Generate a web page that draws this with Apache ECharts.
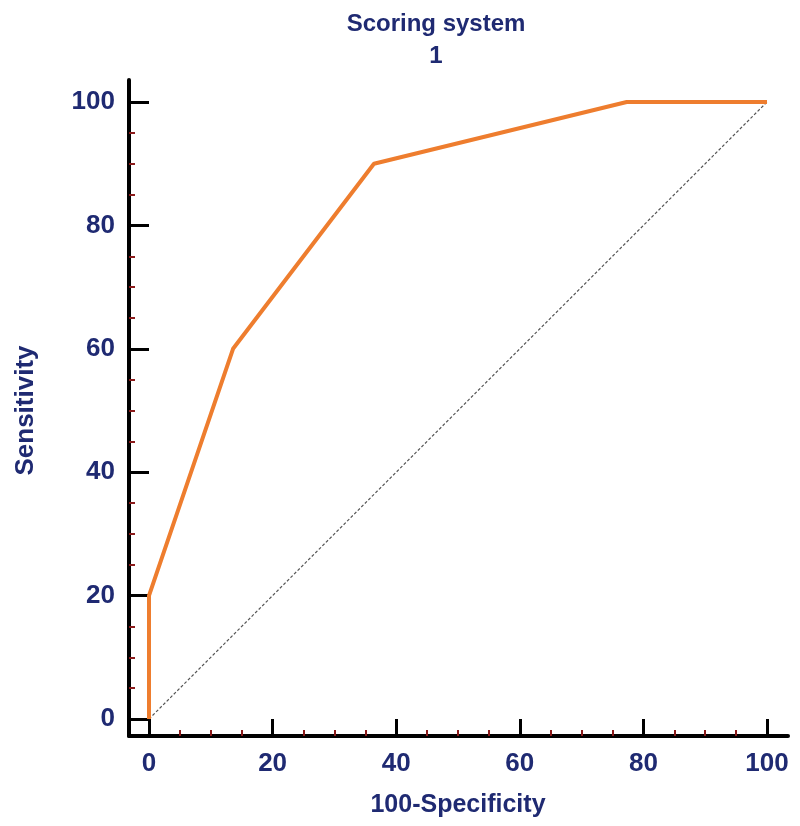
<!DOCTYPE html>
<html>
<head>
<meta charset="utf-8">
<script src="https://cdn.jsdelivr.net/npm/echarts@6/dist/echarts.min.js"></script>
<style>html,body{margin:0;padding:0;background:#fff}#c{width:800px;height:826px}</style>
</head>
<body>
<div id="c"></div>
<script>
const titleLines = ['Scoring system', '1'];
const xName = '100-Specificity';
const yName = 'Sensitivity';
const specificity100 = [0, 0, 13.6, 36.4, 77.3, 100];
const sensitivity = [0, 20, 60, 90, 100, 100];
const diagonalX = [0, 100];
const diagonalY = [0, 100];
const axisMin = 0, axisMax = 100, axisStep = 20;

const navy = '#1f2a72';
const font = '"Liberation Sans",Arial,sans-serif';

const chart = echarts.init(document.getElementById('c'));
const roc = specificity100.map((x, i) => [x, sensitivity[i]]);
const diag = diagonalX.map((x, i) => [x, diagonalY[i]]);

const valAxisCommon = {
  type: 'value', min: axisMin, max: axisMax, interval: axisStep,
  axisLine: { show: true, onZero: false, lineStyle: { color: '#000', width: 4 } },
  axisTick: { show: true, inside: true, length: 17, lineStyle: { color: '#000', width: 3 } },
  minorTick: { show: true, splitNumber: 4, length: 6, lineStyle: { color: '#8b1a1a', width: 2 } },
  splitLine: { show: false },
  axisLabel: { color: navy, fontFamily: font, fontWeight: 'bold', fontSize: 26 },
  nameTextStyle: { color: navy, fontFamily: font, fontWeight: 'bold', fontSize: 25 }
};

chart.setOption({
  animation: false,
  title: {
    text: titleLines.join('\n'),
    left: 431, top: 3, textAlign: 'center',
    textStyle: { color: navy, fontFamily: font, fontWeight: 'bold', fontSize: 24, lineHeight: 32 }
  },
  grid: [
    { left: 149, right: 33, top: 102, bottom: 107, containLabel: false, outerBoundsMode: 'none' },
    { left: 129, right: 12, top: 80, bottom: 90, containLabel: false, outerBoundsMode: 'none' }
  ],
  xAxis: [
    Object.assign({}, valAxisCommon, {
      gridIndex: 0, offset: 17, name: xName, nameLocation: 'middle', nameGap: 57,
      axisLabel: Object.assign({}, valAxisCommon.axisLabel, { margin: 15 })
    }),
    { type: 'value', gridIndex: 1, min: 0, max: 1, axisLine: { show: true, onZero: false, lineStyle: { color: '#000', width: 4 } },
      axisTick: { show: false }, axisLabel: { show: false }, splitLine: { show: false } }
  ],
  yAxis: [
    Object.assign({}, valAxisCommon, {
      gridIndex: 0, offset: 20, name: yName, nameLocation: 'middle', nameGap: 90,
      axisTick: Object.assign({}, valAxisCommon.axisTick, { length: 20 }),
      axisLabel: Object.assign({}, valAxisCommon.axisLabel, { margin: 14 }),
      nameTextStyle: Object.assign({}, valAxisCommon.nameTextStyle, { fontSize: 26 })
    }),
    { type: 'value', gridIndex: 1, min: 0, max: 1, axisLine: { show: true, onZero: false, lineStyle: { color: '#000', width: 4 } },
      axisTick: { show: false }, axisLabel: { show: false }, splitLine: { show: false } }
  ],
  series: [
    { type: 'line', xAxisIndex: 0, yAxisIndex: 0, data: diag, symbol: 'none',
      lineStyle: { color: '#555', width: 1.2, type: [3, 2] }, z: 2 },
    { type: 'line', xAxisIndex: 0, yAxisIndex: 0, data: roc, symbol: 'none',
      lineStyle: { color: '#ee7d2e', width: 4 }, z: 3 }
  ]
});
</script>
</body>
</html>
